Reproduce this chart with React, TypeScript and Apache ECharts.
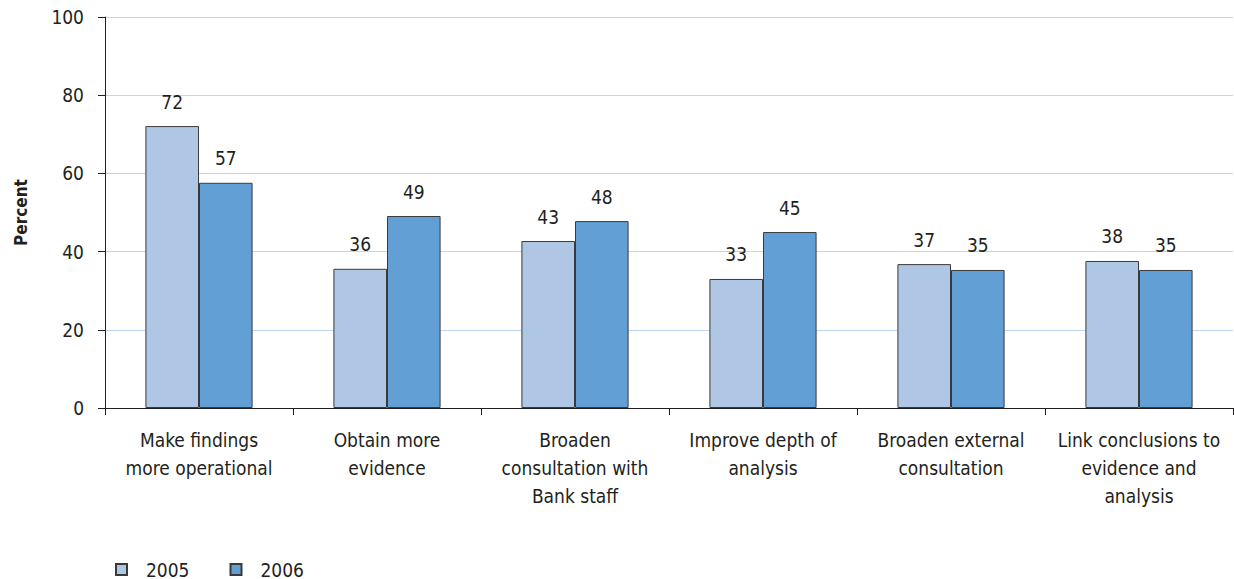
import React, { useEffect, useRef } from "react";
import * as echarts from "echarts";

const categories = [
  "Make findings\nmore operational",
  "Obtain more\nevidence",
  "Broaden\nconsultation with\nBank staff",
  "Improve depth of\nanalysis",
  "Broaden external\nconsultation",
  "Link conclusions to\nevidence and\nanalysis",
];
const values2005 = [72.1, 35.6, 42.7, 33.0, 36.8, 37.6];
const values2006 = [57.6, 49.1, 47.8, 45.0, 35.3, 35.3];
const labels2005 = ["72", "36", "43", "33", "37", "38"];
const labels2006 = ["57", "49", "48", "45", "35", "35"];
const seriesNames = ["2005", "2006"];
const yTicks = { min: 0, max: 100, interval: 20 };

const FONT = "'DejaVu Sans Condensed', 'Liberation Sans Narrow', 'Roboto', sans-serif";
const FS = 19;
const TXT = "#231f20";

export default function App() {
  const ref = useRef<HTMLDivElement>(null);
  useEffect(() => {
    if (!ref.current) return;
    const chart = echarts.init(ref.current, null, { renderer: "svg" });
    const labelStyle = (labels: string[]) => ({
      show: true,
      position: "top" as const,
      distance: 15,
      fontFamily: FONT,
      fontSize: FS,
      color: TXT,
      formatter: (p: any) => labels[p.dataIndex],
    });
    chart.setOption({
      animation: false,
      textStyle: { fontFamily: FONT },
      grid: { left: 105, right: 1, top: 17, bottom: 171, containLabel: false },
      legend: {
        left: 115,
        top: 560,
        padding: 0,
        itemWidth: 11,
        itemHeight: 11,
        itemGap: 40,
        icon: "rect",
        textStyle: {
          fontFamily: FONT,
          fontSize: FS,
          lineHeight: 19,
          color: TXT,
          padding: [0, 0, 0, 14],
        },
        data: seriesNames,
      },
      xAxis: {
        type: "category",
        data: categories,
        axisLine: { lineStyle: { color: TXT, width: 1 } },
        axisTick: { show: true, length: 7, lineStyle: { color: TXT } },
        axisLabel: {
          fontFamily: FONT,
          fontSize: FS,
          color: TXT,
          lineHeight: 28,
          margin: 18,
          interval: 0,
        },
      },
      yAxis: {
        type: "value",
        min: yTicks.min,
        max: yTicks.max,
        interval: yTicks.interval,
        name: "Percent",
        nameLocation: "middle",
        nameRotate: 90,
        nameGap: 76,
        nameTextStyle: { fontFamily: FONT, fontSize: 17, fontWeight: "bold", color: TXT },
        axisLine: { show: true, lineStyle: { color: TXT, width: 1 } },
        axisTick: { show: true, length: 7, lineStyle: { color: TXT } },
        axisLabel: { fontFamily: FONT, fontSize: FS, color: TXT, margin: 21 },
        splitLine: { show: true, lineStyle: { color: "#bfd6f2", width: 1 } },
      },
      series: [
        {
          name: seriesNames[0],
          type: "bar",
          data: values2005,
          barGap: "0%",
          barCategoryGap: "43%",
          itemStyle: { color: "#afc7e5", borderColor: "#3a3a3a", borderWidth: 1 },
          label: labelStyle(labels2005),
        },
        {
          name: seriesNames[1],
          type: "bar",
          data: values2006,
          barGap: "0%",
          barCategoryGap: "43%",
          itemStyle: { color: "#619fd4", borderColor: "#3a3a3a", borderWidth: 1 },
          label: labelStyle(labels2006),
        },
      ],
    });
    return () => chart.dispose();
  }, []);
  return (
    <div
      ref={ref}
      style={{ position: "absolute", left: 0, top: 0, width: 1234, height: 579 }}
    />
  );
}
